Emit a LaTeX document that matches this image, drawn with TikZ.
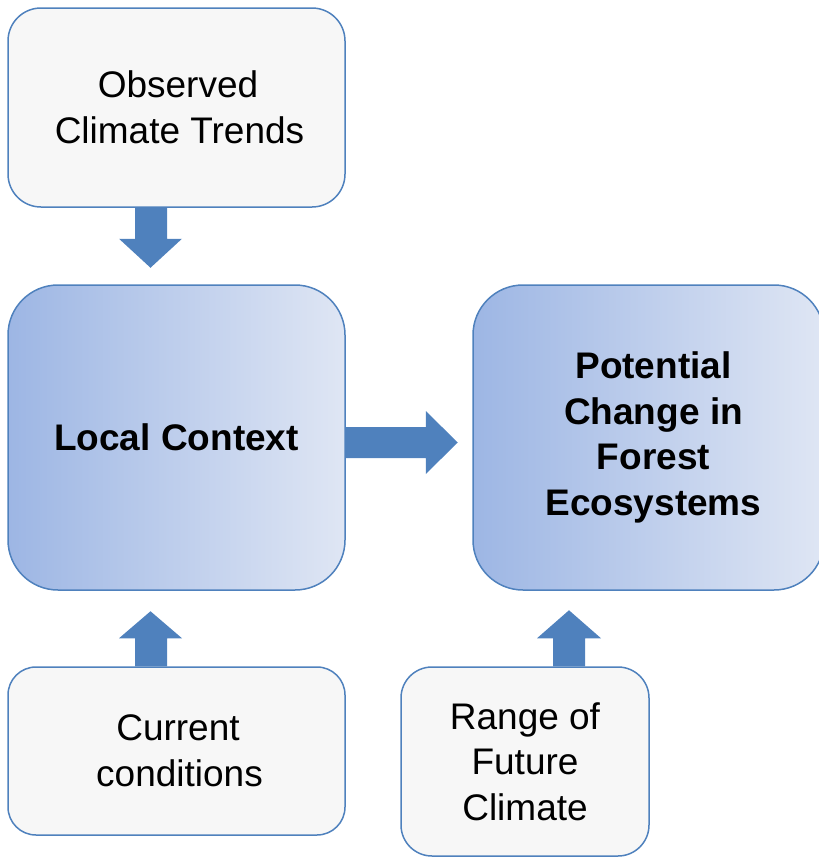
\documentclass[tikz,border=0pt]{standalone}
\usepackage{fontspec}
\setmainfont{Liberation Sans}
\usetikzlibrary{calc}
\definecolor{edge}{HTML}{4F81BD}
\definecolor{boxfill}{HTML}{F7F7F7}
\definecolor{gl}{HTML}{9DB6E4}
\definecolor{gr}{HTML}{DFE6F4}
\begin{document}
\begin{tikzpicture}[x=1pt,y=-1pt,
  box/.style={draw=edge,line width=1.5pt,fill=boxfill,align=center,
    font=\fontsize{37}{45.5}\selectfont,inner sep=0pt},
  gbox/.style={box,left color=gl,right color=gr,
    font=\bfseries\fontsize{37}{45.5}\selectfont},
  blockarrow/.style={fill=edge,draw=none}]
\useasboundingbox (0,0) rectangle (819,857);
% boxes
\node[box,minimum width=337pt,minimum height=199pt,rounded corners=33pt] (obs) at (176.5,107.5) {\hspace*{3pt}Observed\\\hspace*{6pt}Climate Trends};
\node[gbox,minimum width=337pt,minimum height=305pt,rounded corners=50pt] (local) at (176.5,437.5) {Local Context};
\node[gbox,minimum width=351pt,minimum height=305pt,rounded corners=50pt] (pot) at (648.5,437.5) {\hspace*{10pt}Potential\\\hspace*{10pt}Change in\\\hspace*{10pt}Forest\\\hspace*{10pt}Ecosystems};
\node[box,minimum width=337pt,minimum height=168pt,rounded corners=28pt] (cur) at (176.5,751) {\hspace*{3pt}Current\\\hspace*{6pt}conditions};
\node[box,minimum width=248pt,minimum height=189pt,rounded corners=31pt] (rng) at (525,761.5) {Range of\\Future\\Climate};
% block arrows
\fill[blockarrow] ($(obs.south)+(-41.5,0)$) -- ++(32,0) -- ++(0,31) -- ++(15,0)
  -- ++(-31.5,29) -- ++(-31.5,-29) -- ++(16,0) -- cycle;
\fill[blockarrow] ($(local.east)+(0,-10.5)$) -- ++(80,0) -- ++(0,-16) -- ++(32,31.5)
  -- ++(-32,31.5) -- ++(0,-16) -- ++(-80,0) -- cycle;
\fill[blockarrow] ($(cur.north)+(-41.5,0)$) -- ++(32,0) -- ++(0,-28) -- ++(15,0)
  -- ++(-31.5,-27) -- ++(-31.5,27) -- ++(16,0) -- cycle;
\fill[blockarrow] ($(rng.north)+(28,0)$) -- ++(32,0) -- ++(0,-28) -- ++(16,0)
  -- ++(-32,-28) -- ++(-32,28) -- ++(16,0) -- cycle;
\end{tikzpicture}
\end{document}
